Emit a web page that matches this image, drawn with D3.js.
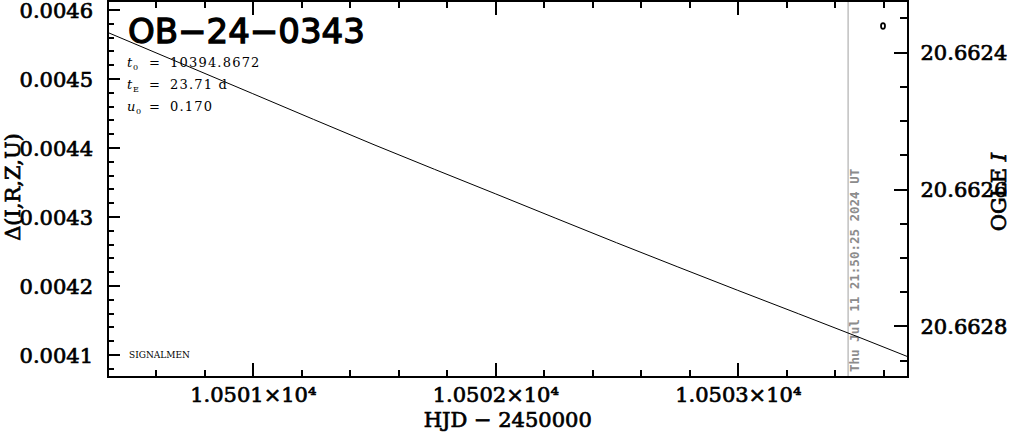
<!DOCTYPE html>
<html>
<head>
<meta charset="utf-8">
<script src="https://cdn.jsdelivr.net/npm/d3@7/dist/d3.min.js"></script>
<style>
  html, body { margin: 0; padding: 0; background: #fff; }
  svg { display: block; }
</style>
</head>
<body>
<svg id="chart" width="1011" height="434"></svg>
<script>
// ---------------- data ----------------
const title = "OB\u221224\u22120343";
const paramT0 = "10394.8672";
const paramTE = "23.71 d";
const paramU0 = "0.170";
const creditText = "SIGNALMEN";

const xDomain = [10500.403, 10503.700];
const yLeftDomain = [0.0040674, 0.0046123];
const yRightDomain = [20.6623255, 20.6628745];

// model curve (HJD - 2450000, Delta)
const modelHJD   = [10500.40, 10501.00, 10501.50, 10502.00, 10502.50, 10503.00, 10503.50, 10503.70];
const modelDelta = [0.004567, 0.004478, 0.004404, 0.004333, 0.004262, 0.004193, 0.004125, 0.004097];

// observed point (HJD - 2450000, OGLE I mag)
const obsHJD = [10503.599];
const obsMag = [20.662362];

// "now" marker
const nowHJD = 10503.455;
const nowLabel = "Thu Jul 11 21:50:25 2024 UT";

// ticks
const xTicks = [10501, 10502, 10503];
const xTickLabels = ["1.0501\u00d710\u2074", "1.0502\u00d710\u2074", "1.0503\u00d710\u2074"];
const leftTicks = [0.0041, 0.0042, 0.0043, 0.0044, 0.0045, 0.0046];
const leftTickLabels = ["0.0041", "0.0042", "0.0043", "0.0044", "0.0045", "0.0046"];
const rightTicks = [20.6624, 20.6626, 20.6628];
const rightTickLabels = ["20.6624", "20.6626", "20.6628"];
const xMinorStep = 0.2, leftMinorStep = 0.00002, rightMinorStep = 0.00005;

const xTitle = "HJD \u2212 2450000";
const yLeftTitle = "\u0394(I,R,Z,U)";

// ---------------- layout ----------------
const W = 1011, H = 434;
const L = 108, R = 907.5, T = 1, B = 377;

const svg = d3.select("#chart");
const x = d3.scaleLinear().domain(xDomain).range([L, R]);
const yL = d3.scaleLinear().domain(yLeftDomain).range([B, T]);
const yR = d3.scaleLinear().domain(yRightDomain).range([T, B]);

const tickFont = "'DejaVu Serif', serif";
const tickSize = 21;

function minorTicks(domain, step) {
  const lo = Math.ceil(domain[0] / step - 1e-9), hi = Math.floor(domain[1] / step + 1e-9);
  return d3.range(lo, hi + 1).map(k => +(k * step).toFixed(8));
}

function boldText(sel, w) {
  sel.attr("stroke", "#000").attr("stroke-width", w).attr("paint-order", "stroke");
}

function styleAxis(g) {
  g.select(".domain").remove();
  g.selectAll(".tick line").attr("stroke", "#000").attr("stroke-width", 2).attr("shape-rendering", "crispEdges");
  g.selectAll(".tick text").attr("fill", "#000").attr("font-family", tickFont).attr("font-size", tickSize)
    .call(boldText, 0.7);
}

// clip
svg.append("defs").append("clipPath").attr("id", "plotclip")
  .append("rect").attr("x", L).attr("y", T).attr("width", R - L).attr("height", B - T);

// minor ticks
svg.append("g").attr("transform", `translate(0,${B})`)
  .call(d3.axisBottom(x).tickValues(minorTicks(xDomain, xMinorStep)).tickSizeInner(-7).tickSizeOuter(0).tickFormat(""))
  .call(styleAxis);
svg.append("g").attr("transform", `translate(0,${T})`)
  .call(d3.axisTop(x).tickValues(minorTicks(xDomain, xMinorStep)).tickSizeInner(-7).tickSizeOuter(0).tickFormat(""))
  .call(styleAxis);
svg.append("g").attr("transform", `translate(${L},0)`)
  .call(d3.axisLeft(yL).tickValues(minorTicks(yLeftDomain, leftMinorStep)).tickSizeInner(-6).tickSizeOuter(0).tickFormat(""))
  .call(styleAxis);
svg.append("g").attr("transform", `translate(${R},0)`)
  .call(d3.axisRight(yR).tickValues(minorTicks(yRightDomain, rightMinorStep)).tickSizeInner(-8).tickSizeOuter(0).tickFormat(""))
  .call(styleAxis);

// major ticks
const gxB = svg.append("g").attr("transform", `translate(0,${B})`)
  .call(d3.axisBottom(x).tickValues(xTicks).tickSizeInner(-14).tickSizeOuter(0).tickPadding(0)
    .tickFormat((d, i) => xTickLabels[i]))
  .call(styleAxis);
gxB.selectAll(".tick text").attr("y", 25).attr("dy", null);

svg.append("g").attr("transform", `translate(0,${T})`)
  .call(d3.axisTop(x).tickValues(xTicks).tickSizeInner(-14).tickSizeOuter(0).tickFormat(""))
  .call(styleAxis);

const gyL = svg.append("g").attr("transform", `translate(${L},0)`)
  .call(d3.axisLeft(yL).tickValues(leftTicks).tickSizeInner(-12).tickSizeOuter(0).tickPadding(15)
    .tickFormat((d, i) => leftTickLabels[i]))
  .call(styleAxis);
gyL.selectAll(".tick text").attr("dy", "0.36em");

const gyR = svg.append("g").attr("transform", `translate(${R},0)`)
  .call(d3.axisRight(yR).tickValues(rightTicks).tickSizeInner(-14).tickSizeOuter(0).tickPadding(13)
    .tickFormat((d, i) => rightTickLabels[i]))
  .call(styleAxis);
gyR.selectAll(".tick text").attr("dy", "0.36em");

// now marker line
svg.append("line")
  .attr("x1", x(nowHJD)).attr("x2", x(nowHJD)).attr("y1", T).attr("y2", B)
  .attr("stroke", "#a0a0a0").attr("stroke-width", 1);
svg.append("text")
  .attr("transform", `translate(${x(nowHJD) + 11},${B - 5}) rotate(-90)`)
  .attr("font-family", "'DejaVu Sans Mono', monospace").attr("font-weight", "bold")
  .attr("font-size", 12.5).attr("fill", "#8c8c8c")
  .text(nowLabel);

// model line
const line = d3.line().x(d => x(d[0])).y(d => yL(d[1])).curve(d3.curveMonotoneX);
svg.append("path")
  .datum(modelHJD.map((h, i) => [h, modelDelta[i]]))
  .attr("clip-path", "url(#plotclip)")
  .attr("d", line).attr("fill", "none").attr("stroke", "#000").attr("stroke-width", 1);

// observed point
svg.selectAll("ellipse.obs").data(obsHJD.map((h, i) => [h, obsMag[i]])).enter()
  .append("ellipse").attr("class", "obs")
  .attr("cx", d => x(d[0])).attr("cy", d => yR(d[1])).attr("rx", 2).attr("ry", 2.8)
  .attr("fill", "none").attr("stroke", "#000").attr("stroke-width", 1.8);

// frame
svg.append("rect").attr("x", L).attr("y", T).attr("width", R - L).attr("height", B - T)
  .attr("fill", "none").attr("stroke", "#000").attr("stroke-width", 2).attr("shape-rendering", "crispEdges");

// title
svg.append("text").attr("x", 128).attr("y", 43)
  .attr("font-family", "'DejaVu Sans', sans-serif").attr("font-size", 34).attr("fill", "#000")
  .call(boldText, 1.3)
  .text(title);

// parameters
const pf = "'DejaVu Serif', serif";
function paramLine(y, sym, sub, val) {
  const t = svg.append("text").attr("y", y).attr("font-family", pf).attr("font-size", 13).attr("fill", "#000");
  t.append("tspan").attr("x", 127).attr("font-style", "italic").text(sym);
  t.append("tspan").attr("x", sym === "u" ? 136 : 133).attr("dy", 3).attr("font-size", 8).text(sub);
  t.append("tspan").attr("x", 149).attr("dy", -3).text("=");
  t.append("tspan").attr("x", 170).attr("letter-spacing", 1.2).text(val);
}
paramLine(67, "t", "0", paramT0);
paramLine(89, "t", "E", paramTE);
paramLine(111, "u", "0", paramU0);

// credit
svg.append("text").attr("x", 129).attr("y", 358)
  .attr("font-family", pf).attr("font-size", 9).attr("fill", "#000").text(creditText);

// axis titles
svg.append("text").attr("x", (L + R) / 2).attr("y", 427).attr("text-anchor", "middle")
  .attr("font-family", tickFont).attr("font-size", tickSize).attr("fill", "#000")
  .call(boldText, 0.7).text(xTitle);

svg.append("text").attr("transform", `translate(20,${(T + B) / 2 - 2}) rotate(-90)`)
  .attr("text-anchor", "middle")
  .attr("font-family", tickFont).attr("font-size", tickSize).attr("fill", "#000")
  .call(boldText, 0.7).text(yLeftTitle);

const rt = svg.append("text").attr("transform", `translate(1006,${(T + B) / 2 + 3}) rotate(-90)`)
  .attr("text-anchor", "middle")
  .attr("font-family", tickFont).attr("font-size", tickSize).attr("fill", "#000")
  .call(boldText, 0.7);
rt.append("tspan").text("OGLE ");
rt.append("tspan").attr("font-style", "italic").text("I");
</script>
</body>
</html>
